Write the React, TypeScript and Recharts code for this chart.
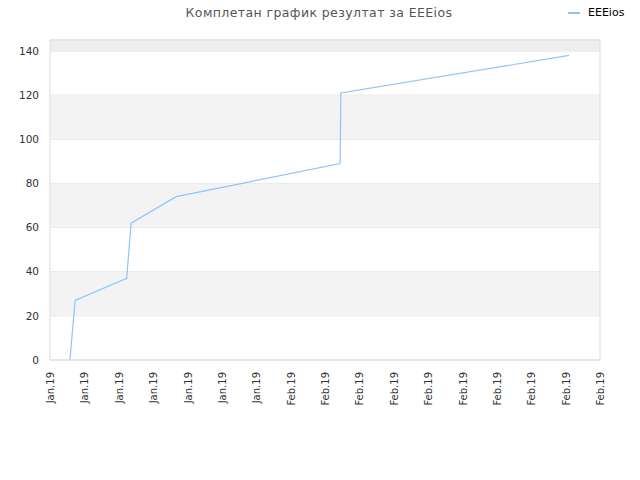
import React from 'react';
import { LineChart, Line, XAxis, YAxis, CartesianGrid, ReferenceArea, ReferenceLine } from 'recharts';

// x is measured in tick steps (0 = first "Jan.19" label)
const xPos = [0.58, 0.73, 2.23, 2.36, 3.67, 8.44, 8.46, 15.1];
const scores = [0, 27, 37, 62, 74, 89, 121, 138];
const tickLabels = [
  'Jan.19', 'Jan.19', 'Jan.19', 'Jan.19', 'Jan.19', 'Jan.19', 'Jan.19',
  'Feb.19', 'Feb.19', 'Feb.19', 'Feb.19', 'Feb.19', 'Feb.19', 'Feb.19', 'Feb.19', 'Feb.19', 'Feb.19',
];
const yTicks = [0, 20, 40, 60, 80, 100, 120, 140];
const shadedBands = [[20, 40], [60, 80], [100, 120]];

const data = xPos.map((x, i) => ({ x, score: scores[i] }));

const FONT = '"DejaVu Sans", sans-serif';

const XTick = (props: any) => {
  const { x, y, payload } = props;
  return (
    <text
      x={x}
      y={y}
      transform={`rotate(-90, ${x}, ${y})`}
      textAnchor="end"
      dx={-4}
      dy={4}
      fontSize={10}
      fill="#333"
      fontFamily={FONT}
    >
      {tickLabels[payload.value]}
    </text>
  );
};

export default function App() {
  return (
    <div style={{ position: 'absolute', left: 0, top: 0, width: 640, height: 480, background: '#fff' }}>
      <div
        style={{
          position: 'absolute',
          top: 5,
          left: 0,
          width: 638,
          textAlign: 'center',
          fontFamily: FONT,
          fontSize: 12.5,
          letterSpacing: 0.4,
          color: '#555',
        }}
      >
        Комплетан график резултат за EEEios
      </div>
      <div
        style={{
          position: 'absolute',
          top: 6,
          left: 568,
          display: 'flex',
          alignItems: 'center',
          fontFamily: FONT,
          fontSize: 11,
          color: '#000',
        }}
      >
        <span style={{ display: 'inline-block', width: 12, height: 2, background: '#90c4f8', marginRight: 8 }} />
        EEEios
      </div>
      <LineChart width={640} height={480} data={data} margin={{ top: 40, right: 40, left: 8, bottom: 60 }}>
        <ReferenceArea y1={140} y2={145} fill="#eeeeee" fillOpacity={1} stroke="none" />
        {shadedBands.map(([a, b]) => (
          <ReferenceArea key={a} y1={a} y2={b} fill="#f3f3f3" fillOpacity={1} stroke="none" />
        ))}
        <CartesianGrid vertical={false} stroke="#e2e2e2" />
        <ReferenceLine y={145} stroke="#dddddd" />
        <ReferenceLine x={16} stroke="#dddddd" />
        <XAxis
          dataKey="x"
          type="number"
          domain={[0, 16]}
          ticks={tickLabels.map((_, i) => i)}
          interval={0}
          tick={<XTick />}
          tickLine={false}
          axisLine={{ stroke: '#dddddd' }}
          height={60}
        />
        <YAxis
          domain={[0, 145]}
          ticks={yTicks}
          allowDataOverflow
          tickLine={false}
          axisLine={{ stroke: '#dddddd' }}
          width={42}
          tickMargin={5}
          tick={{ fontSize: 10.5, fill: '#333', fontFamily: FONT }}
        />
        <Line
          type="linear"
          dataKey="score"
          stroke="#90c4f8"
          strokeWidth={1.2}
          dot={false}
          isAnimationActive={false}
        />
      </LineChart>
    </div>
  );
}
